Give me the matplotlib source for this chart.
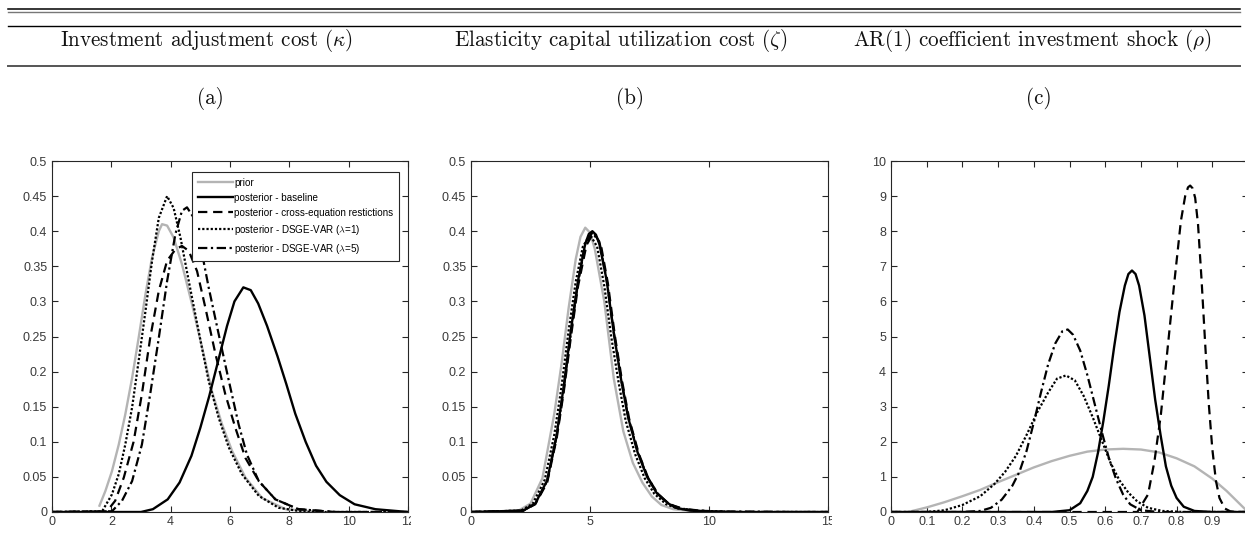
import matplotlib
matplotlib.use("Agg")
import matplotlib.pyplot as plt
from matplotlib.lines import Line2D
from matplotlib.transforms import Bbox, TransformedBbox
import numpy as np

# ---- data ----
headers = [r"Investment adjustment cost ($\kappa$)",
           r"Elasticity capital utilization cost ($\zeta$)",
           r"AR(1) coefficient investment shock ($\rho$)"]
panel_tags = ["(a)", "(b)", "(c)"]
legend_labels = ["prior", "posterior - baseline",
                 "posterior - cross-equation restictions",
                 r"posterior - DSGE-VAR ($\lambda$=1)",
                 r"posterior - DSGE-VAR ($\lambda$=5)"]

# panel (a): kappa
a_prior_x = [1.6, 1.8, 2.02, 2.25, 2.47, 2.7, 2.92, 3.15, 3.37, 3.6, 3.71, 3.88, 4.1, 4.38, 4.72, 5.06, 5.39, 5.73, 6.07, 6.52, 7.08, 7.87, 9.0]
a_prior_y = [0.009, 0.03, 0.058, 0.096, 0.139, 0.191, 0.248, 0.31, 0.362, 0.4, 0.41, 0.408, 0.391, 0.353, 0.296, 0.234, 0.172, 0.125, 0.087, 0.049, 0.02, 0.004, 0.0]
a_base_x = [0, 3.0, 3.4, 3.9, 4.3, 4.7, 5.0, 5.3, 5.6, 5.9, 6.15, 6.45, 6.7, 6.95, 7.25, 7.6, 7.9, 8.2, 8.55, 8.9, 9.25, 9.7, 10.2, 10.9, 12]
a_base_y = [0, 0.0, 0.004, 0.018, 0.042, 0.08, 0.12, 0.165, 0.215, 0.265, 0.3, 0.32, 0.316, 0.297, 0.265, 0.222, 0.182, 0.14, 0.1, 0.066, 0.043, 0.024, 0.011, 0.004, 0.0]
a_cross_x = [0, 1.85, 2.13, 2.42, 2.75, 3.03, 3.31, 3.6, 3.88, 4.16, 4.38, 4.61, 4.89, 5.17, 5.51, 5.84, 6.18, 6.52, 6.97, 7.53, 8.31, 9.55, 12]
a_cross_y = [0, 0.001, 0.016, 0.049, 0.1, 0.168, 0.248, 0.315, 0.358, 0.374, 0.379, 0.372, 0.343, 0.291, 0.225, 0.168, 0.12, 0.077, 0.044, 0.018, 0.004, 0.0, 0]
a_dsge1_x = [0, 1.69, 2.02, 2.25, 2.47, 2.7, 2.92, 3.15, 3.37, 3.6, 3.88, 4.1, 4.33, 4.61, 4.94, 5.28, 5.62, 5.96, 6.4, 6.97, 7.64, 8.54, 12]
a_dsge1_y = [0, 0.001, 0.025, 0.054, 0.096, 0.149, 0.215, 0.286, 0.357, 0.419, 0.45, 0.433, 0.391, 0.329, 0.258, 0.187, 0.134, 0.092, 0.054, 0.023, 0.006, 0.0, 0]
a_dsge5_x = [0, 2.02, 2.36, 2.7, 3.03, 3.31, 3.6, 3.88, 4.16, 4.38, 4.55, 4.78, 5.0, 5.28, 5.62, 5.96, 6.29, 6.57, 6.97, 7.53, 8.31, 9.55, 12]
a_dsge5_y = [0, 0.001, 0.016, 0.044, 0.096, 0.168, 0.248, 0.329, 0.396, 0.429, 0.434, 0.419, 0.381, 0.32, 0.253, 0.187, 0.125, 0.082, 0.044, 0.018, 0.004, 0.0, 0]

# panel (b): zeta
b_prior_x = [2.0, 2.5, 3.0, 3.5, 3.8, 4.1, 4.4, 4.6, 4.8, 5.0, 5.2, 5.6, 6.0, 6.4, 6.8, 7.2, 7.6, 8.0, 8.5, 9.5]
b_prior_y = [0.002, 0.012, 0.048, 0.14, 0.21, 0.29, 0.36, 0.392, 0.405, 0.398, 0.375, 0.3, 0.19, 0.115, 0.07, 0.042, 0.022, 0.01, 0.004, 0.0005]
b_base_x = [0, 2.2, 2.7, 3.2, 3.6, 3.9, 4.2, 4.5, 4.8, 4.95, 5.1, 5.25, 5.4, 5.7, 6.0, 6.3, 6.6, 7.0, 7.4, 7.8, 8.1, 8.3, 8.6, 9.2, 10.0, 11.0, 15]
b_base_y = [0, 0.002, 0.012, 0.045, 0.11, 0.18, 0.26, 0.33, 0.382, 0.396, 0.4, 0.395, 0.381, 0.33, 0.255, 0.19, 0.135, 0.085, 0.05, 0.027, 0.018, 0.012, 0.006, 0.002, 0.0005, 0, 0]
b_cross_x = [0, 2.2, 2.7, 3.2, 3.6, 3.9, 4.2, 4.5, 4.85, 5.15, 5.45, 5.75, 6.05, 6.35, 6.65, 7.05, 7.45, 7.85, 8.3, 8.8, 9.5, 11.0, 15]
b_cross_y = [0, 0.002, 0.011, 0.042, 0.105, 0.172, 0.25, 0.322, 0.38, 0.398, 0.382, 0.326, 0.25, 0.186, 0.132, 0.083, 0.048, 0.026, 0.012, 0.005, 0.002, 0, 0]
b_dsge1_x = [0, 2.1, 2.6, 3.1, 3.5, 3.8, 4.1, 4.4, 4.7, 5.0, 5.3, 5.6, 5.9, 6.2, 6.5, 6.9, 7.3, 7.7, 8.2, 8.7, 9.4, 11.0, 15]
b_dsge1_y = [0, 0.002, 0.012, 0.046, 0.11, 0.178, 0.258, 0.328, 0.378, 0.395, 0.378, 0.322, 0.248, 0.185, 0.13, 0.082, 0.048, 0.026, 0.011, 0.005, 0.002, 0, 0]
b_dsge5_x = [0, 2.2, 2.7, 3.2, 3.6, 3.9, 4.2, 4.5, 4.8, 5.1, 5.4, 5.7, 6.0, 6.3, 6.6, 7.0, 7.4, 7.8, 8.1, 8.4, 9.0, 10.0, 12.0, 13.5, 15]
b_dsge5_y = [0, 0.002, 0.012, 0.044, 0.108, 0.176, 0.256, 0.327, 0.382, 0.398, 0.384, 0.33, 0.256, 0.19, 0.136, 0.086, 0.051, 0.028, 0.017, 0.01, 0.004, 0.001, 0.0005, 0.0, 0]

# panel (c): rho
c_prior_x = [0.06, 0.1, 0.15, 0.2, 0.25, 0.3, 0.35, 0.4, 0.45, 0.5, 0.55, 0.6, 0.65, 0.7, 0.75, 0.8, 0.85, 0.9, 0.94, 0.97, 1.0]
c_prior_y = [0.03, 0.13, 0.28, 0.45, 0.63, 0.85, 1.06, 1.27, 1.45, 1.6, 1.72, 1.78, 1.8, 1.78, 1.7, 1.53, 1.3, 0.95, 0.6, 0.3, 0.0]
c_base_x = [0, 0.45, 0.5, 0.53, 0.55, 0.565, 0.58, 0.595, 0.61, 0.625, 0.64, 0.655, 0.665, 0.675, 0.685, 0.695, 0.71, 0.725, 0.74, 0.755, 0.77, 0.785, 0.8, 0.82, 0.85, 0.9, 1.0]
c_base_y = [0, 0, 0.05, 0.25, 0.6, 1.0, 1.7, 2.6, 3.6, 4.7, 5.7, 6.45, 6.78, 6.88, 6.78, 6.45, 5.6, 4.4, 3.2, 2.2, 1.3, 0.75, 0.4, 0.15, 0.03, 0, 0]
c_cross_x = [0, 0.69, 0.72, 0.738, 0.756, 0.775, 0.794, 0.812, 0.824, 0.832, 0.838, 0.845, 0.852, 0.86, 0.87, 0.88, 0.89, 0.9, 0.91, 0.92, 0.935, 0.95, 0.97, 1.0]
c_cross_y = [0, 0, 0.5, 1.45, 2.78, 4.68, 6.58, 8.29, 9.0, 9.25, 9.3, 9.22, 8.95, 8.2, 6.6, 4.8, 3.1, 1.8, 0.9, 0.4, 0.1, 0.02, 0, 0]
c_dsge1_x = [0, 0.1, 0.15, 0.2, 0.25, 0.29, 0.32, 0.35, 0.38, 0.41, 0.44, 0.465, 0.49, 0.515, 0.54, 0.565, 0.59, 0.615, 0.64, 0.665, 0.69, 0.72, 0.76, 0.82, 1.0]
c_dsge1_y = [0, 0, 0.05, 0.2, 0.45, 0.8, 1.15, 1.6, 2.2, 2.85, 3.4, 3.8, 3.89, 3.75, 3.3, 2.7, 2.05, 1.4, 0.9, 0.55, 0.3, 0.12, 0.03, 0, 0]
c_dsge5_x = [0, 0.2, 0.25, 0.28, 0.31, 0.34, 0.36, 0.38, 0.4, 0.42, 0.44, 0.46, 0.48, 0.495, 0.51, 0.53, 0.55, 0.57, 0.59, 0.61, 0.63, 0.65, 0.67, 0.7, 0.75, 1.0]
c_dsge5_y = [0, 0, 0.03, 0.12, 0.35, 0.75, 1.15, 1.75, 2.55, 3.4, 4.2, 4.8, 5.15, 5.2, 5.05, 4.6, 3.9, 3.1, 2.3, 1.55, 0.95, 0.5, 0.22, 0.05, 0, 0]

a_xticks = [0, 2, 4, 6, 8, 10, 12]
b_xticks = [0, 5, 10, 15]
c_xticks = [0, 0.1, 0.2, 0.3, 0.4, 0.5, 0.6, 0.7, 0.8, 0.9, 1]
ab_yticks = [0, 0.05, 0.1, 0.15, 0.2, 0.25, 0.3, 0.35, 0.4, 0.45, 0.5]
c_yticks = list(range(0, 11))

# ---- styles ----
GRAY = '#b4b4b4'
AXC = '#262626'
styles = [dict(color=GRAY, lw=1.7, ls='-'),
          dict(color='black', lw=1.7, ls='-'),
          dict(color='black', lw=1.6, ls=(0, (4.2, 2.6))),
          dict(color='black', lw=1.6, ls=(0, (1.0, 0.9))),
          dict(color='black', lw=1.6, ls=(0, (4.2, 1.6, 1.0, 1.6)))]

W, H = 1245, 535
fig = plt.figure(figsize=(W / 100, H / 100), dpi=100)
fig.patch.set_facecolor('white')
plt.rcParams['mathtext.fontset'] = 'cm'


def px(x0, y0, x1, y1):
    # pixel box -> figure fraction rect
    return [x0 / W, 1 - y1 / H, (x1 - x0) / W, (y1 - y0) / H]


panels = [
    dict(rect=px(52, 161, 408, 512), xlim=(0, 12), ylim=(0, 0.5), xt=a_xticks, yt=ab_yticks,
         series=[(a_prior_x, a_prior_y), (a_base_x, a_base_y), (a_cross_x, a_cross_y),
                 (a_dsge1_x, a_dsge1_y), (a_dsge5_x, a_dsge5_y)], clipx=411),
    dict(rect=px(471, 161, 828, 512), xlim=(0, 15), ylim=(0, 0.5), xt=b_xticks, yt=ab_yticks,
         series=[(b_prior_x, b_prior_y), (b_base_x, b_base_y), (b_cross_x, b_cross_y),
                 (b_dsge1_x, b_dsge1_y), (b_dsge5_x, b_dsge5_y)], clipx=832),
    dict(rect=px(891, 161, 1248, 512), xlim=(0, 1), ylim=(0, 10), xt=c_xticks, yt=c_yticks,
         series=[(c_prior_x, c_prior_y), (c_base_x, c_base_y), (c_cross_x, c_cross_y),
                 (c_dsge1_x, c_dsge1_y), (c_dsge5_x, c_dsge5_y)], clipx=W),
]

axes = []
for p in panels:
    ax = fig.add_axes(p['rect'])
    for (xs, ys), st in zip(p['series'], styles):
        ax.plot(xs, ys, **st)
    ax.set_xlim(*p['xlim'])
    ax.set_ylim(*p['ylim'])
    ax.set_xticks(p['xt'])
    ax.set_yticks(p['yt'])
    xlabs = [('%g' % v) for v in p['xt']]
    if p['xlim'][1] == 1:
        xlabs[-1] = ''  # falls outside the cropped picture
    ax.set_xticklabels(xlabs)
    ax.set_yticklabels([('%g' % v) for v in p['yt']])
    ax.tick_params(direction='in', length=4, width=0.8, colors=AXC, labelsize=9,
                   top=True, right=True, pad=3)
    ax.tick_params(axis='y', pad=3.5)
    for s in ax.spines.values():
        s.set_color(AXC)
        s.set_linewidth(0.8)
    for lab in ax.get_xticklabels() + ax.get_yticklabels():
        lab.set_fontfamily('Liberation Sans')
        lab.set_color('#3a3a3a')
    # crop the panel at its right border like the original layout
    cb = TransformedBbox(Bbox([[0, 0], [p['clipx'] / W, 1]]), fig.transFigure)
    for lab in ax.get_xticklabels():
        lab.set_clip_on(True)
        lab.set_clip_box(cb)
    axes.append(ax)

handles = [Line2D([], [], **st) for st in styles]
leg = axes[0].legend(handles, legend_labels, loc='upper right',
                     bbox_to_anchor=(0.975, 0.969), borderaxespad=0,
                     fancybox=False, framealpha=1, edgecolor=AXC,
                     prop={'family': 'Liberation Sans', 'size': 7.1},
                     handlelength=3.5, handletextpad=0.15, labelspacing=0.5,
                     borderpad=0.6)
leg.get_frame().set_linewidth(0.8)

# ---- table rules and header ----
rules = [(9, 'black', 1.1), (12, '#777777', 1.0), (26, 'black', 1.0), (66, '#555555', 1.4)]
for y, col, lw in rules:
    fig.add_artist(Line2D([8 / W, 1240 / W], [1 - y / H, 1 - y / H], color=col, lw=lw,
                          transform=fig.transFigure))

head_cx = [206, 621, 1032]
for cx, txt in zip(head_cx, headers):
    fig.text(cx / W, 1 - 41 / H, txt, ha='center', va='center', fontsize=15.2,
             family='cmr10', color='#111111')
for cx, tag in zip([210, 630, 1039], panel_tags):
    fig.text(cx / W, 1 - 99 / H, tag, ha='center', va='center', fontsize=15.2,
             family='cmr10', color='#111111')

fig.savefig('out.png', dpi=100, facecolor='white')
